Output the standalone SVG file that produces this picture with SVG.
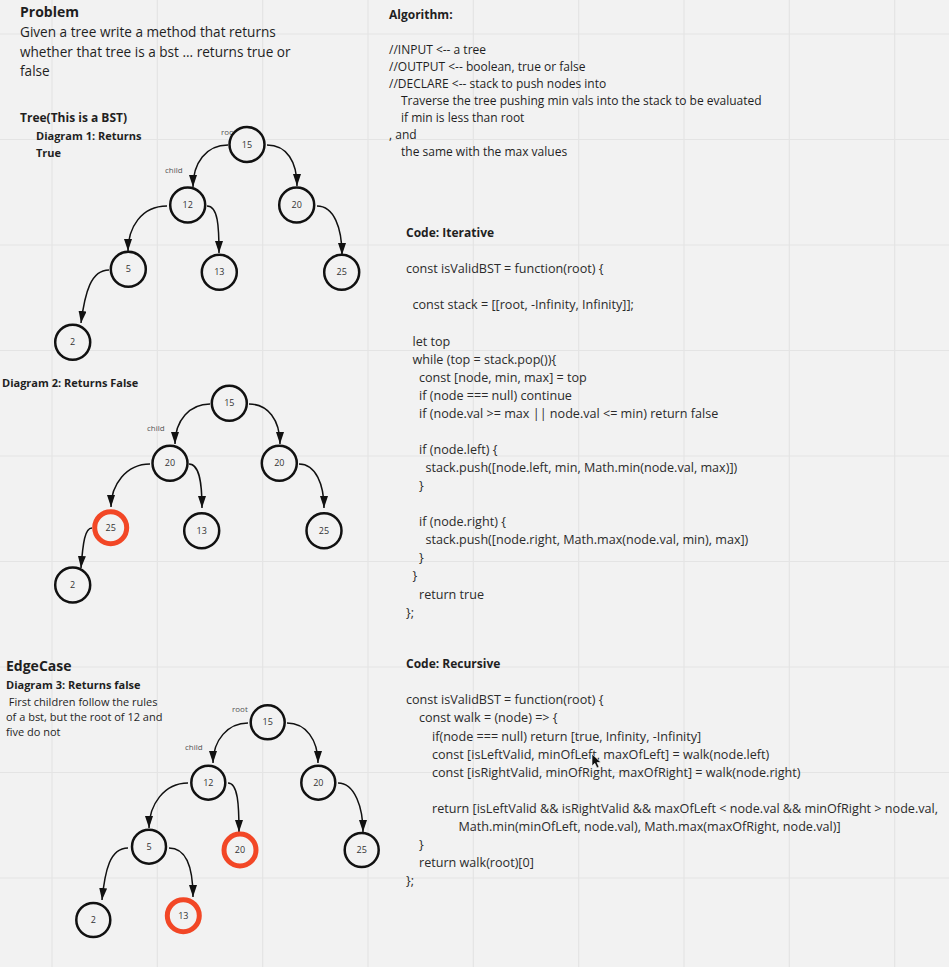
<svg xmlns="http://www.w3.org/2000/svg" width="949" height="967" viewBox="0 0 949 967">
<defs>
<marker id="ah" markerUnits="userSpaceOnUse" markerWidth="13" markerHeight="9" refX="12" refY="4" orient="auto">
<path d="M0,0 L12,4 L0,8 Z" fill="#111"/>
</marker>
</defs>
<style>
.grid line{stroke:#e4e4e4;stroke-width:1.2}
.t{font-family:"Open Sans","Noto Sans",sans-serif;fill:#1f1f1f}
.b{font-weight:bold}
.h{font-size:14px}
.hp{font-size:13.6px}
.p{font-size:12px}
.s{font-size:11px}
.c{font-family:"Open Sans","Noto Sans",sans-serif;font-size:12.6px;fill:#2b2b2b}
.lbl{font-family:"Open Sans","Noto Sans",sans-serif;font-size:8px;fill:#555}
.node circle{fill:#f2f2f2;stroke:#111;stroke-width:2.5}
.node.red circle{stroke:#f24726;stroke-width:5}
.node text{font-family:"Open Sans","Noto Sans",sans-serif;font-size:9px;fill:#333;text-anchor:middle}
.edges path{fill:none;stroke:#111;stroke-width:1.5;marker-end:url(#ah)}
</style>
<rect width="949" height="967" fill="#f2f2f2"/>
<g class="grid">
<line x1="52" y1="0" x2="52" y2="967"/>
<line x1="157.3" y1="0" x2="157.3" y2="967"/>
<line x1="262.7" y1="0" x2="262.7" y2="967"/>
<line x1="368" y1="0" x2="368" y2="967"/>
<line x1="473.3" y1="0" x2="473.3" y2="967"/>
<line x1="578.7" y1="0" x2="578.7" y2="967"/>
<line x1="684" y1="0" x2="684" y2="967"/>
<line x1="789.3" y1="0" x2="789.3" y2="967"/>
<line x1="894.7" y1="0" x2="894.7" y2="967"/>
<line x1="0" y1="34" x2="949" y2="34"/>
<line x1="0" y1="139.5" x2="949" y2="139.5"/>
<line x1="0" y1="245" x2="949" y2="245"/>
<line x1="0" y1="350.5" x2="949" y2="350.5"/>
<line x1="0" y1="456" x2="949" y2="456"/>
<line x1="0" y1="561.5" x2="949" y2="561.5"/>
<line x1="0" y1="667" x2="949" y2="667"/>
<line x1="0" y1="772.5" x2="949" y2="772.5"/>
<line x1="0" y1="878" x2="949" y2="878"/>
</g>

<g id="problem">
<text class="t b h" x="20" y="17">Problem</text>
<text class="t hp" x="20" y="37">Given a tree write a method that returns</text>
<text class="t hp" x="20" y="56.5">whether that tree is a bst ... returns true or</text>
<text class="t hp" x="20" y="75.5">false</text>
</g>

<g id="algorithm">
<text class="t b p" x="389" y="19">Algorithm:</text>
<text class="t p" x="389" y="54">//INPUT &lt;-- a tree</text>
<text class="t p" x="389" y="71">//OUTPUT &lt;-- boolean, true or false</text>
<text class="t p" x="389" y="88">//DECLARE &lt;-- stack to push nodes into</text>
<text class="t p" x="401" y="105">Traverse the tree pushing min vals into the stack to be evaluated</text>
<text class="t p" x="401" y="122">if min is less than root</text>
<text class="t p" x="389" y="139">, and</text>
<text class="t p" x="401" y="156">the same with the max values</text>
</g>

<g id="code-iterative">
<text class="t b p" x="406" y="236.5">Code: Iterative</text>
<text class="c" x="406" y="272.5">const isValidBST = function(root) {</text>
<text class="c" x="412.5" y="309">const stack = [[root, -Infinity, Infinity]];</text>
<text class="c" x="412.5" y="345.5">let top</text>
<text class="c" x="412.5" y="363.5">while (top = stack.pop()){</text>
<text class="c" x="419" y="381.5">const [node, min, max] = top</text>
<text class="c" x="419" y="399.5">if (node === null) continue</text>
<text class="c" x="419" y="417.5">if (node.val &gt;= max || node.val &lt;= min) return false</text>
<text class="c" x="419" y="454">if (node.left) {</text>
<text class="c" x="425.5" y="472">stack.push([node.left, min, Math.min(node.val, max)])</text>
<text class="c" x="419" y="490">}</text>
<text class="c" x="419" y="526">if (node.right) {</text>
<text class="c" x="425.5" y="544">stack.push([node.right, Math.max(node.val, min), max])</text>
<text class="c" x="419" y="562">}</text>
<text class="c" x="412.5" y="580">}</text>
<text class="c" x="419" y="598.5">return true</text>
<text class="c" x="406" y="616.5">};</text>
</g>

<g id="code-recursive">
<text class="t b p" x="406" y="667.5">Code: Recursive</text>
<text class="c" x="406" y="704">const isValidBST = function(root) {</text>
<text class="c" x="419" y="722">const walk = (node) =&gt; {</text>
<text class="c" x="432" y="740.5">if(node === null) return [true, Infinity, -Infinity]</text>
<text class="c" x="432" y="758.5">const [isLeftValid, minOfLeft, maxOfLeft] = walk(node.left)</text>
<text class="c" x="432" y="776.5">const [isRightValid, minOfRight, maxOfRight] = walk(node.right)</text>
<text class="c" x="432" y="812.5">return [isLeftValid &amp;&amp; isRightValid &amp;&amp; maxOfLeft &lt; node.val &amp;&amp; minOfRight &gt; node.val,</text>
<text class="c" x="458.5" y="830.5">Math.min(minOfLeft, node.val), Math.max(maxOfRight, node.val)]</text>
<text class="c" x="419" y="848.5">}</text>
<text class="c" x="419" y="866.5">return walk(root)[0]</text>
<text class="c" x="406" y="884.5">};</text>
<path d="M592,754 L592,766 L594.8,763.3 L597,768 L599,767 L597,762.5 L601,762.5 Z" fill="#111" stroke="#fff" stroke-width="0.6"/>
</g>

<g id="diagram1-labels">
<text class="t b p" x="20" y="122">Tree(This is a BST)</text>
<text class="t b s" x="36" y="140">Diagram 1: Returns</text>
<text class="t b s" x="36" y="156.5">True</text>
<text class="lbl" x="221" y="134.5">root</text>
<text class="lbl" x="165" y="172.5">child</text>
</g>

<g id="diagram2-labels">
<text class="t b s" x="2" y="387">Diagram 2: Returns False</text>
<text class="lbl" x="147" y="430.5">child</text>
</g>

<g id="diagram3-labels">
<text class="t b h" x="6" y="671">EdgeCase</text>
<text class="t b s" x="6" y="689">Diagram 3: Returns false</text>
<text class="t s" x="6" y="705.5" xml:space="preserve"> First children follow the rules</text>
<text class="t s" x="6" y="720.5">of a bst, but the root of 12 and</text>
<text class="t s" x="6" y="735.5">five do not</text>
<text class="lbl" x="232" y="712">root</text>
<text class="lbl" x="185" y="750">child</text>
</g>

<g class="edges" id="connectors">
<path d="M228,145 C206,145 193,163 193,187"/>
<path d="M267,145 C287,145 297,162 297,186"/>
<path d="M167,206 C141,206 128,228 128,251"/>
<path d="M207,206 C218,206 219,226 219,253"/>
<path d="M317,206 C334,206 342,228 342,255"/>
<path d="M109,270 C91,270 85,292 81,323"/>

<path d="M210,404 C190,404 175,420 175,444"/>
<path d="M249,404 C268,404 280,420 280,444"/>
<path d="M150,464 C126,464 111,485 111,507"/>
<path d="M189,464 C200,464 202,485 202,508"/>
<path d="M299,464 C316,464 324,485 324,508"/>
<path d="M92,528 C85,528 83,542 81,568"/>

<path d="M248,723 C228,723 213,740 213,763"/>
<path d="M287,723 C306,723 318,740 318,763"/>
<path d="M188,783 C164,783 149,805 149,828"/>
<path d="M228,783 C238,783 239,805 239,832"/>
<path d="M338,783 C355,783 363,808 363,832"/>
<path d="M128,848 C110,848 105,870 102,900"/>
<path d="M169,848 C188,848 193,870 193,897"/>
</g>

<g id="d1-n15" class="node"><circle cx="247" cy="144.5" r="17.5"/><text x="247" y="147.5">15</text></g>
<g id="d1-n12" class="node"><circle cx="187.7" cy="205" r="17.5"/><text x="187.7" y="208">12</text></g>
<g id="d1-n20" class="node"><circle cx="296.7" cy="205" r="17.5"/><text x="296.7" y="208">20</text></g>
<g id="d1-n5" class="node"><circle cx="128.3" cy="269.3" r="17.5"/><text x="128.3" y="272.3">5</text></g>
<g id="d1-n13" class="node"><circle cx="219.3" cy="272.3" r="17.5"/><text x="219.3" y="275.3">13</text></g>
<g id="d1-n25" class="node"><circle cx="341.7" cy="272.3" r="17.5"/><text x="341.7" y="275.3">25</text></g>
<g id="d1-n2" class="node"><circle cx="72.7" cy="342.3" r="17.5"/><text x="72.7" y="345.3">2</text></g>

<g id="d2-n15" class="node"><circle cx="229.3" cy="403.3" r="17.5"/><text x="229.3" y="406.3">15</text></g>
<g id="d2-n20a" class="node"><circle cx="170" cy="463.3" r="17.5"/><text x="170" y="466.3">20</text></g>
<g id="d2-n20b" class="node"><circle cx="279.3" cy="463.3" r="17.5"/><text x="279.3" y="466.3">20</text></g>
<g id="d2-n25a" class="node red"><circle cx="110.7" cy="527.7" r="16"/><text x="110.7" y="530.7">25</text></g>
<g id="d2-n13" class="node"><circle cx="201.7" cy="530.7" r="17.5"/><text x="201.7" y="533.7">13</text></g>
<g id="d2-n25b" class="node"><circle cx="324" cy="530.7" r="17.5"/><text x="324" y="533.7">25</text></g>
<g id="d2-n2" class="node"><circle cx="72.7" cy="585" r="17.5"/><text x="72.7" y="588">2</text></g>

<g id="d3-n15" class="node"><circle cx="267.7" cy="722.3" r="17"/><text x="267.7" y="725.3">15</text></g>
<g id="d3-n12" class="node"><circle cx="208.3" cy="782.7" r="17"/><text x="208.3" y="785.7">12</text></g>
<g id="d3-n20b" class="node"><circle cx="318.3" cy="782.7" r="17"/><text x="318.3" y="785.7">20</text></g>
<g id="d3-n5" class="node"><circle cx="149" cy="846.7" r="17"/><text x="149" y="849.7">5</text></g>
<g id="d3-n20a" class="node red"><circle cx="240" cy="850" r="16"/><text x="240" y="853">20</text></g>
<g id="d3-n25" class="node"><circle cx="361.7" cy="850" r="17"/><text x="361.7" y="853">25</text></g>
<g id="d3-n2" class="node"><circle cx="93.3" cy="920" r="17"/><text x="93.3" y="923">2</text></g>
<g id="d3-n13" class="node red"><circle cx="183.3" cy="915.7" r="16"/><text x="183.3" y="918.7">13</text></g>
</svg>
